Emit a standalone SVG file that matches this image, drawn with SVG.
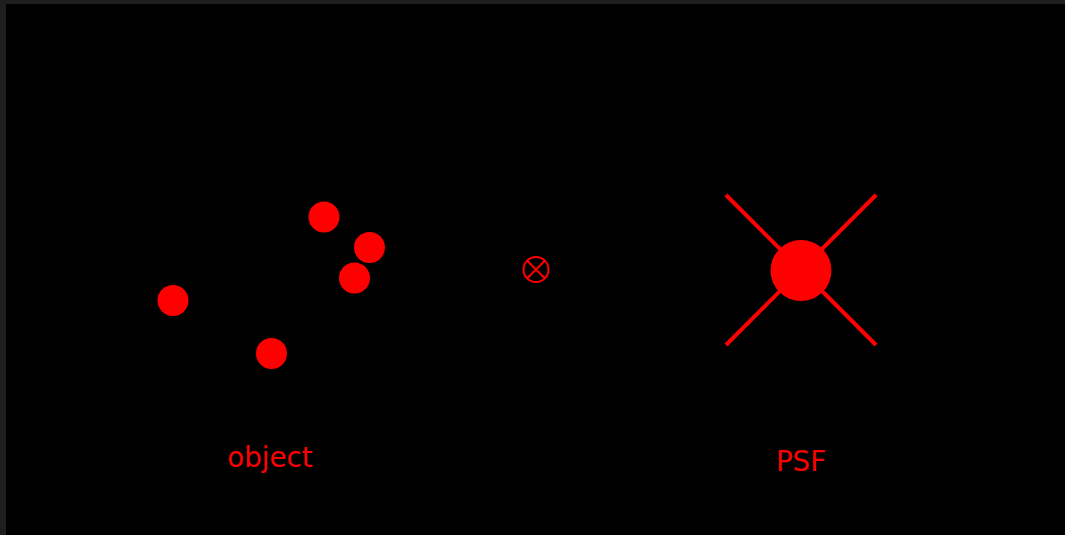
<svg xmlns="http://www.w3.org/2000/svg" width="1065" height="535" viewBox="0 0 1065 535">
  <style>
    .dot { fill: #ff0000; }
    .lbl { fill: #ff0000; font-family: "DejaVu Sans", sans-serif; font-size: 27.7px; text-anchor: middle; }
    .ln { stroke: #ff0000; stroke-width: 4; fill: none; }
  </style>
  <rect x="0" y="0" width="1065" height="535" fill="#1e1e1e"/>
  <rect x="6" y="4" width="1059" height="531" fill="#000000"/>
  <g id="object">
    <circle class="dot" cx="324" cy="217" r="15.5"/>
    <circle class="dot" cx="369.5" cy="247.5" r="15.5"/>
    <circle class="dot" cx="354.5" cy="278" r="15.5"/>
    <circle class="dot" cx="173" cy="300.5" r="15.5"/>
    <circle class="dot" cx="271.5" cy="353.5" r="15.5"/>
    <text class="lbl" x="270" y="467">object</text>
  </g>
  <g id="otimes">
    <circle cx="536" cy="269.5" r="12.5" fill="none" stroke="#ff0000" stroke-width="2"/>
    <line x1="527.2" y1="260.7" x2="544.8" y2="278.3" stroke="#ff0000" stroke-width="2"/>
    <line x1="544.8" y1="260.7" x2="527.2" y2="278.3" stroke="#ff0000" stroke-width="2"/>
  </g>
  <g id="psf">
    <line class="ln" x1="726" y1="195" x2="876" y2="345"/>
    <line class="ln" x1="876" y1="195" x2="726" y2="345"/>
    <circle class="dot" cx="801" cy="270.5" r="30.5"/>
    <text class="lbl" x="801" y="471">PSF</text>
  </g>
</svg>
